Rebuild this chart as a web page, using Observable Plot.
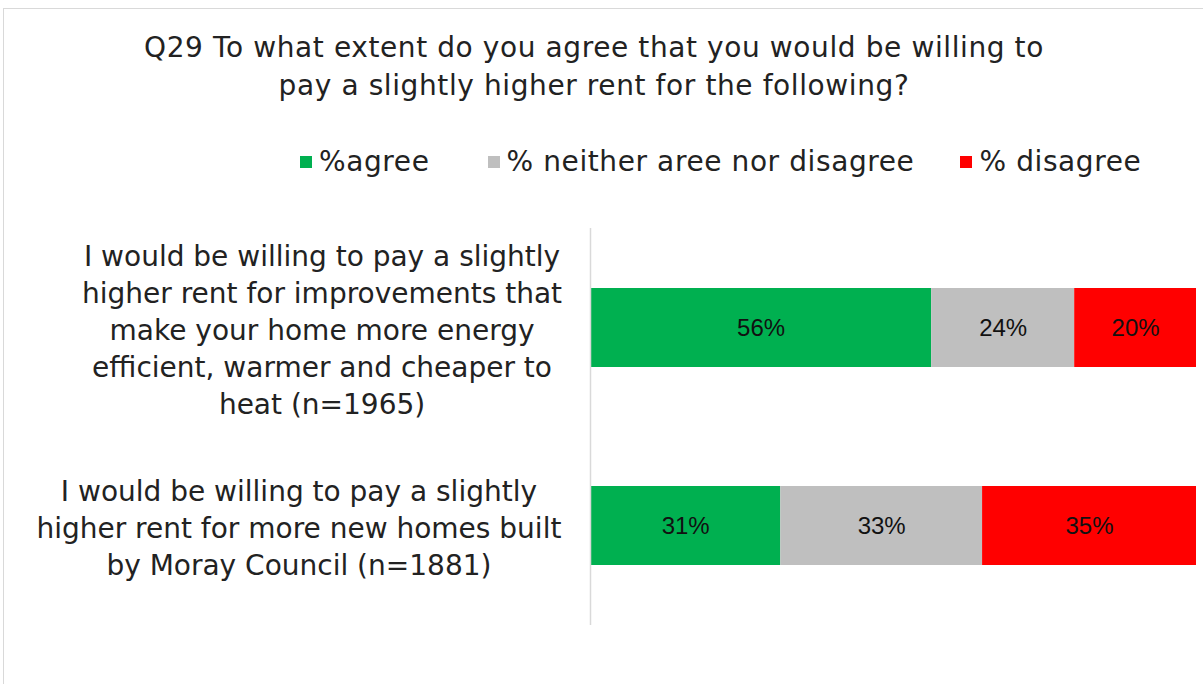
<!DOCTYPE html>
<html>
<head>
<meta charset="utf-8">
<script src="https://cdn.jsdelivr.net/npm/d3@7"></script>
<script src="https://cdn.jsdelivr.net/npm/@observablehq/plot@0.6"></script>
<style>
  html, body { margin: 0; padding: 0; background: #fff; width: 1203px; height: 684px; overflow: hidden; }
  body { position: relative; font-family: "DejaVu Sans", sans-serif; color: #222; }
  #frame { position: absolute; left: 3px; top: 8px; width: 1250px; height: 720px; border-left: 1.5px solid #d9d9d9; border-top: 1.5px solid #d9d9d9; }
  #title { position: absolute; left: 0; top: 29px; width: 1188px; text-align: center; font-size: 28px; line-height: 38px; letter-spacing: 0.6px; }
  #legend { position: absolute; left: 300px; top: 144px; display: flex; gap: 46px; font-size: 28px; line-height: 36px; letter-spacing: 0.6px; }
  #legend .item { display: flex; align-items: center; gap: 7px; }
  #legend .item:first-child { margin-right: 12px; }
  #legend .sw { width: 12px; height: 12px; display: inline-block; }
  #chart { position: absolute; left: 0; top: 200px; }
</style>
</head>
<body>
<div id="frame"></div>
<div id="title">Q29 To what extent do you agree that you would be willing to<br>pay a slightly higher rent for the following?</div>
<div id="legend"></div>
<div id="chart"></div>
<script>
const questions = [
  "I would be willing to pay a slightly\nhigher rent for improvements that\nmake your home more energy\nefficient, warmer and cheaper to\nheat (n=1965)",
  "I would be willing to pay a slightly\nhigher rent for more new homes built\nby Moray Council (n=1881)"
];
const seriesNames = ["%agree", "% neither aree nor disagree", "% disagree"];
const seriesColors = ["#00B050", "#BFBFBF", "#FF0000"];
const agreeValues = [56.3, 31.4];
const neitherValues = [23.6, 33.3];
const disagreeValues = [20.1, 35.3];
const valueLabels = [["56%", "24%", "20%"], ["31%", "33%", "35%"]];

const data = [];
questions.forEach((q, i) => {
  [agreeValues, neitherValues, disagreeValues].forEach((arr, j) => {
    data.push({question: q, series: seriesNames[j], value: arr[i], label: valueLabels[i][j]});
  });
});

// legend
const legend = document.getElementById("legend");
seriesNames.forEach((s, i) => {
  const it = document.createElement("div");
  it.className = "item";
  it.innerHTML = `<span class="sw" style="background:${seriesColors[i]}"></span><span>${s}</span>`;
  legend.appendChild(it);
});

const labelSize = 28, labelSpacing = 0.45;
const ctx = document.createElement("canvas").getContext("2d");
ctx.font = `${labelSize}px 'DejaVu Sans'`;
function maxLineWidth(s) {
  return Math.max(...s.split("\n").map(l => ctx.measureText(l).width + l.length * labelSpacing));
}

const labelMarks = questions.map(q => Plot.text([q], {
  x: () => 0, y: d => d, text: d => d,
  textAnchor: "middle", lineAnchor: "middle", lineHeight: 1.32,
  dx: -(maxLineWidth(q) / 2 + 21),
  fontSize: labelSize, fill: "#222", fontFamily: "DejaVu Sans",
  style: `letter-spacing:${labelSpacing}px`
}));

const chart = Plot.plot({
  width: 1203,
  height: 440,
  marginLeft: 590,
  marginRight: 7,
  marginTop: 28,
  marginBottom: 15,
  style: {background: "transparent", overflow: "visible"},
  x: {domain: [0, 100], axis: null},
  y: {domain: questions, axis: null, paddingInner: 0.6, paddingOuter: 0.3},
  color: {domain: seriesNames, range: seriesColors},
  marks: [
    Plot.barX(data, Plot.stackX({x: "value", y: "question", fill: "series", order: seriesNames})),
    Plot.text(data, Plot.stackX({x: "value", y: "question", z: "series", order: seriesNames, text: "label", fontSize: 24, fontFamily: "Liberation Sans", fill: "#111"})),
    Plot.ruleX([0], {stroke: "#d9d9d9", strokeWidth: 1.5}),
    ...labelMarks
  ]
});
document.getElementById("chart").appendChild(chart);
</script>
</body>
</html>
